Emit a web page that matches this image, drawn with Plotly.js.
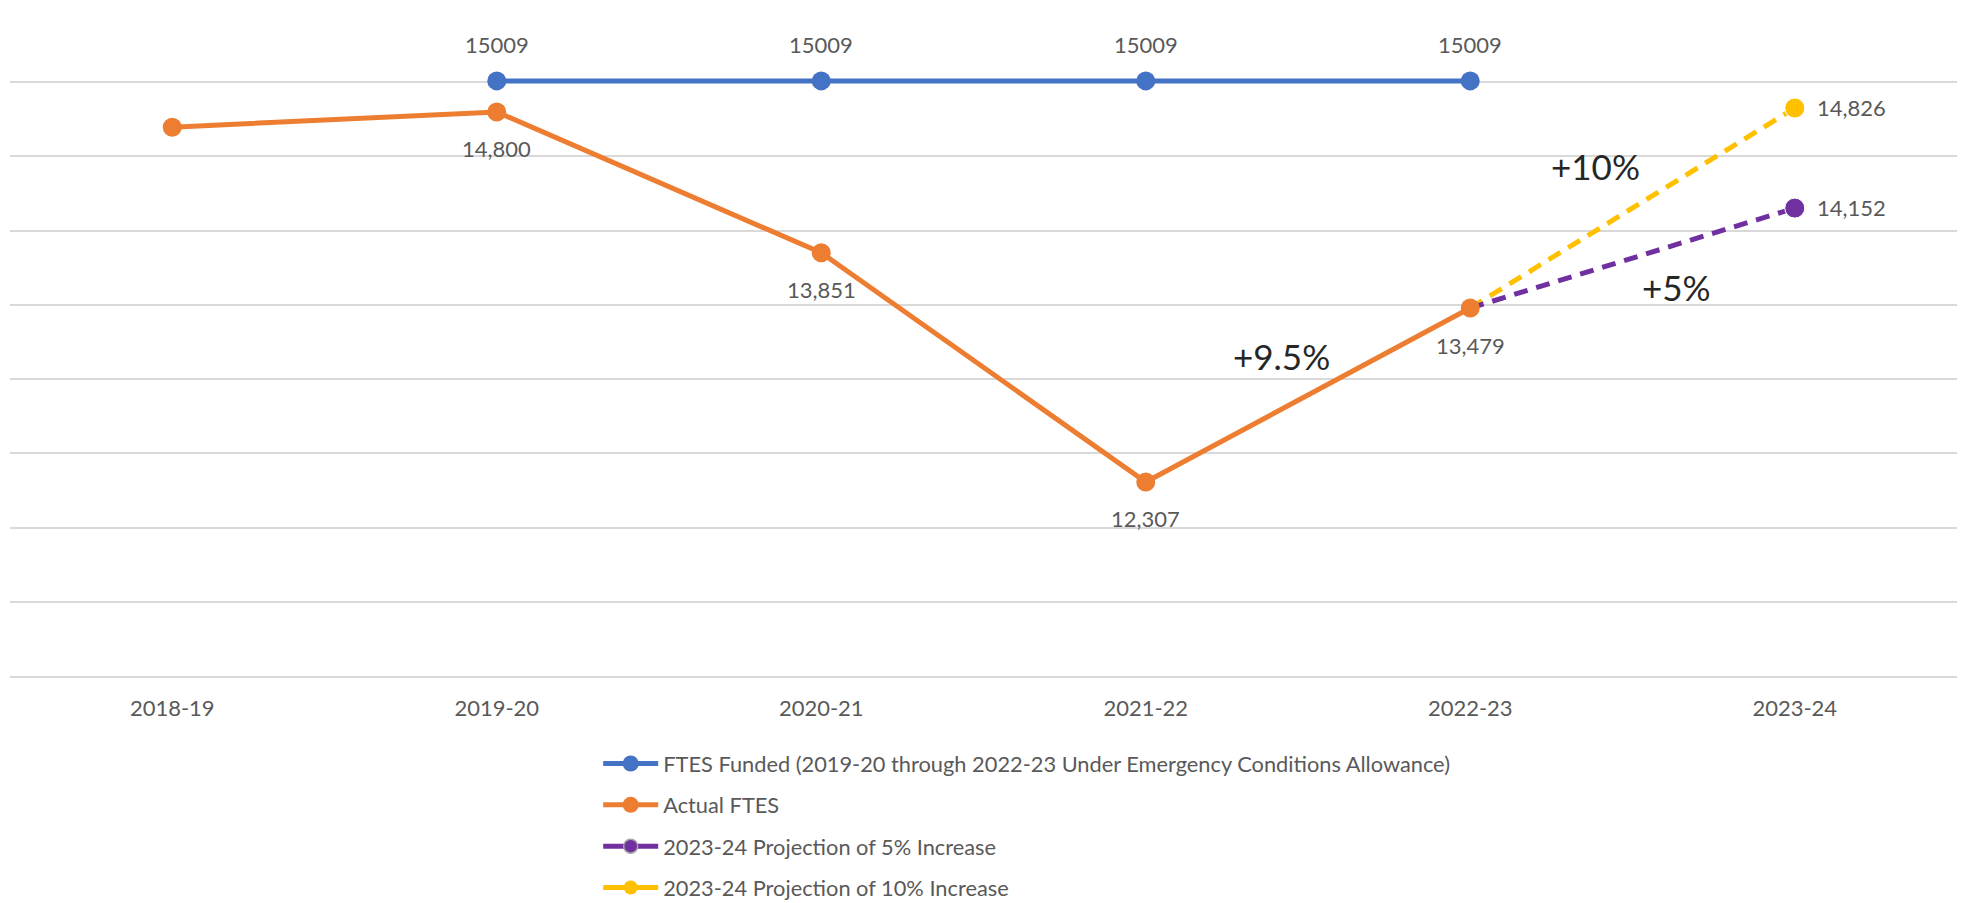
<!DOCTYPE html>
<html>
<head>
<meta charset="utf-8">
<script src="https://cdn.plot.ly/plotly-3.0.1.min.js"></script>
<style>html,body{margin:0;padding:0;background:#fff;}#chart{width:1967px;height:903px;}</style>
</head>
<body>
<div id="chart"></div>
<script>
const categories = ["2018-19", "2019-20", "2020-21", "2021-22", "2022-23", "2023-24"];
const fundedFTES = [null, 15009, 15009, 15009, 15009, null];
const actualFTES = [14697, 14800, 13851, 12307, 13479, null];
const projection5 = [null, null, null, null, 13479, 14152];
const projection10 = [null, null, null, null, 13479, 14826];
const seriesNames = [
  "FTES Funded (2019-20 through 2022-23 Under Emergency Conditions Allowance)",
  "Actual FTES",
  "2023-24 Projection of 5% Increase",
  "2023-24 Projection of 10% Increase"
];
const changeLabels = ["+9.5%", "+10%", "+5%"];
const yTicks = [11000, 11500, 12000, 12500, 13000, 13500, 14000, 14500, 15000, 15500];

const C_BLUE = "#4472C4", C_ORANGE = "#ED7D31", C_PURPLE = "#7030A0", C_YELLOW = "#FFC000";
const FONT = "Lato, 'Open Sans', sans-serif";
const LBL = "#595959";
const LW = 5, MS = 19;

function projSizes(arr) { return arr.map((v, i) => (v !== null && i === arr.length - 1) ? MS + 1 : 0); }

const traces = [
  { x: categories, y: projection10, type: "scatter", mode: "lines+markers", showlegend: false,
    line: { color: C_YELLOW, width: LW, dash: "14px,9px" }, marker: { color: C_YELLOW, opacity: 1, size: projSizes(projection10) }, hoverinfo: "skip" },
  { x: categories, y: projection5, type: "scatter", mode: "lines+markers", showlegend: false,
    line: { color: C_PURPLE, width: LW, dash: "14px,9px" }, marker: { color: C_PURPLE, opacity: 1, size: projSizes(projection5) }, hoverinfo: "skip" },
  { x: categories, y: fundedFTES, type: "scatter", mode: "lines+markers", name: seriesNames[0], legendgroup: "a", legendrank: 1,
    line: { color: C_BLUE, width: LW }, marker: { color: C_BLUE, size: MS } },
  { x: categories, y: actualFTES, type: "scatter", mode: "lines+markers", name: seriesNames[1], legendgroup: "b", legendrank: 2,
    line: { color: C_ORANGE, width: LW }, marker: { color: C_ORANGE, size: MS } },
  { x: [null], y: [null], type: "scatter", mode: "lines+markers", name: seriesNames[2], legendgroup: "c", legendrank: 3,
    line: { color: C_PURPLE, width: LW }, marker: { color: C_PURPLE, size: 14, line: { color: "#A6A6A6", width: 1.5 } } },
  { x: [null], y: [null], type: "scatter", mode: "lines+markers", name: seriesNames[3], legendgroup: "d", legendrank: 4,
    line: { color: C_YELLOW, width: LW }, marker: { color: C_YELLOW, size: 14 } }
];

const annotations = [];
const fmt = v => v.toLocaleString("en-US");
const lblFont = { family: FONT, size: 22, color: LBL };
fundedFTES.forEach((v, i) => { if (v !== null) annotations.push({ x: categories[i], y: v, text: String(v), showarrow: false, xanchor: "center", yanchor: "middle", yshift: 36, font: lblFont }); });
actualFTES.forEach((v, i) => { if (v !== null && i > 0) annotations.push({ x: categories[i], y: v, text: fmt(v), showarrow: false, xanchor: "center", yanchor: "middle", yshift: -37, font: lblFont }); });
[projection10, projection5].forEach(arr => { const i = arr.length - 1; annotations.push({ x: categories[i], y: arr[i], text: fmt(arr[i]), showarrow: false, xanchor: "left", yanchor: "middle", xshift: 20, yshift: 1, font: lblFont }); });
const bigPos = [[0.6532, 0.479], [0.8144, 0.7635], [0.856, 0.5823]];
changeLabels.forEach((t, k) => annotations.push({ xref: "paper", yref: "paper", x: bigPos[k][0], y: bigPos[k][1], xanchor: "center", yanchor: "middle", text: t, showarrow: false, font: { family: FONT, size: 35, color: "#262626" } }));

const layout = {
  width: 1967, height: 903,
  margin: { l: 9.5, r: 9.5, t: 8, b: 227, autoexpand: false },
  paper_bgcolor: "#fff", plot_bgcolor: "#fff",
  font: { family: FONT, size: 22, color: LBL },
  showlegend: true,
  xaxis: { type: "category", range: [-0.5, 5.5], showgrid: false, zeroline: false, showline: true, linecolor: "#D9D9D9", linewidth: 2,
    ticks: "", ticklabelstandoff: 12, tickfont: { family: FONT, size: 22, color: LBL }, fixedrange: true },
  yaxis: { range: [11000, 15500], tickvals: yTicks, showticklabels: false, showgrid: true, gridcolor: "#D9D9D9", gridwidth: 2,
    zeroline: false, showline: false, fixedrange: true },
  legend: { orientation: "v", x: 0.3021, xanchor: "left", y: -0.1, yanchor: "top", tracegroupgap: 10, itemwidth: 55,
    font: { family: FONT, size: 21.8, color: LBL }, bgcolor: "rgba(0,0,0,0)" },
  annotations: annotations
};

Plotly.newPlot("chart", traces, layout, { displayModeBar: false, staticPlot: true });
</script>
</body>
</html>
